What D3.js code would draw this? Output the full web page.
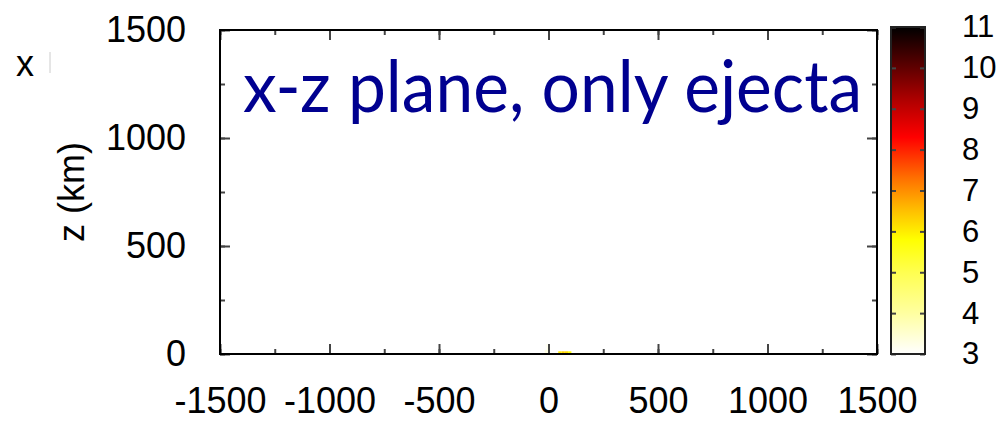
<!DOCTYPE html>
<html>
<head>
<meta charset="utf-8">
<script src="https://cdn.jsdelivr.net/npm/d3@7"></script>
<style>
  body { margin: 0; background: #fff; }
  svg { display: block; }
</style>
</head>
<body>
<div id="chart"></div>
<script>
// Chart size, same as the window
var svgWidth = 1003;
var svgHeight = 421;

// Axis ranges and ticks
var xDomain = [-1500, 1500];
var zDomain = [0, 1500];
var xMajorTicks = [-1500, -1000, -500, 0, 500, 1000, 1500];
var zMajorTicks = [0, 500, 1000, 1500];
var minorStep = 250;

// Colour bar values and palette stops
var cbDomain = [3, 11];
var cbTicks = [3, 4, 5, 6, 7, 8, 9, 10, 11];
var paletteValues = [3, 4, 5, 5.8, 6.5, 7.3, 8.3, 9.2, 10, 11];
var paletteColors = ["#ffffff", "#ffffa0", "#ffff50", "#ffff00", "#ffc000",
                     "#ff7000", "#ff0000", "#b00000", "#600000", "#000000"];

// Ejecta cells (x in km, z in km, colour value)
var ejectaX = [-10, 0, -5, 52, 67, 82, 97];
var ejectaZ = [12, 25, 38, 5, 5, 5, 5];
var ejectaV = [3.3, 3.25, 3.15, 6.0, 6.3, 6.2, 5.8];
var cellKm = 15;

var titleText = "x-z plane, only ejecta";
var zLabel = "z (km)";

var tickFont = "'Liberation Sans', Arial, sans-serif";

var svg = d3.select("#chart")
  .append("svg")
  .attr("width", svgWidth)
  .attr("height", svgHeight)
  .attr("font-family", tickFont);

// plot area scales
var x = d3.scaleLinear().domain(xDomain).range([220, 877]);
var z = d3.scaleLinear().domain(zDomain).range([354, 30]);
var color = d3.scaleLinear().domain(paletteValues).range(paletteColors).clamp(true);

// ejecta marks (drawn first, frame goes on top)
var cells = ejectaX.map((d, i) => ({ x: d, z: ejectaZ[i], v: ejectaV[i] }));
svg.append("g")
  .selectAll("rect")
  .data(cells)
  .enter()
  .append("rect")
  .attr("x", d => x(d.x - cellKm / 2))
  .attr("y", d => z(d.z + cellKm / 2))
  .attr("width", d => x(d.x + cellKm / 2) - x(d.x - cellKm / 2))
  .attr("height", d => z(d.z - cellKm / 2) - z(d.z + cellKm / 2))
  .attr("fill", d => color(d.v));

// minor ticks every 250, inward, all four sides
var xMinor = d3.range(xDomain[0], xDomain[1] + 1, minorStep);
var zMinor = d3.range(zDomain[0], zDomain[1] + 1, minorStep);

function styleAxis(g) {
  g.select(".domain").remove();
  g.selectAll(".tick line").attr("stroke", "#444").attr("stroke-width", 2);
}

svg.append("g").attr("transform", "translate(0,354)")
  .call(d3.axisBottom(x).tickValues(xMinor).tickSize(-5).tickFormat(""))
  .call(styleAxis);
svg.append("g").attr("transform", "translate(0,30)")
  .call(d3.axisTop(x).tickValues(xMinor).tickSize(-5).tickFormat(""))
  .call(styleAxis);
svg.append("g").attr("transform", "translate(220,0)")
  .call(d3.axisLeft(z).tickValues(zMinor).tickSize(-5).tickFormat(""))
  .call(styleAxis);
svg.append("g").attr("transform", "translate(877,0)")
  .call(d3.axisRight(z).tickValues(zMinor).tickSize(-5).tickFormat(""))
  .call(styleAxis);

// major ticks with labels (plain hyphen, no thousands separator)
var plain = d => String(d);

var xAxis = svg.append("g").attr("transform", "translate(0,354)")
  .call(d3.axisBottom(x).tickValues(xMajorTicks).tickFormat(plain)
    .tickSizeInner(-10).tickSizeOuter(0).tickPadding(33))
  .call(styleAxis);
xAxis.selectAll("text").attr("font-size", 36).attr("fill", "#000")
  .attr("font-family", tickFont);

var zAxis = svg.append("g").attr("transform", "translate(220,0)")
  .call(d3.axisLeft(z).tickValues(zMajorTicks).tickFormat(plain)
    .tickSizeInner(-10).tickSizeOuter(0).tickPadding(34))
  .call(styleAxis);
zAxis.selectAll("text").attr("font-size", 36).attr("fill", "#000")
  .attr("font-family", tickFont);

svg.append("g").attr("transform", "translate(0,30)")
  .call(d3.axisTop(x).tickValues(xMajorTicks).tickSize(-10).tickFormat(""))
  .call(styleAxis);
svg.append("g").attr("transform", "translate(877,0)")
  .call(d3.axisRight(z).tickValues(zMajorTicks).tickSize(-10).tickFormat(""))
  .call(styleAxis);

// frame
svg.append("rect")
  .attr("x", 220).attr("y", 30)
  .attr("width", 657).attr("height", 324)
  .attr("fill", "none").attr("stroke", "#000").attr("stroke-width", 2);

// z label
svg.append("text")
  .attr("transform", "translate(84,192) rotate(-90)")
  .attr("text-anchor", "middle")
  .attr("font-size", 36)
  .text(zLabel);

// title overlay
svg.append("text")
  .attr("x", 243).attr("y", 112)
  .attr("font-family", "Lato, 'Open Sans', sans-serif")
  .attr("font-size", 72)
  .attr("fill", "#000090")
  .attr("textLength", 619)
  .attr("lengthAdjust", "spacingAndGlyphs")
  .text(titleText);

// colour bar
var cb = d3.scaleLinear().domain(cbDomain).range([354, 27]);
var grad = svg.append("defs").append("linearGradient")
  .attr("id", "cbgrad")
  .attr("x1", 0).attr("y1", 1).attr("x2", 0).attr("y2", 0);
grad.selectAll("stop")
  .data(paletteValues)
  .enter()
  .append("stop")
  .attr("offset", d => (d - cbDomain[0]) / (cbDomain[1] - cbDomain[0]))
  .attr("stop-color", (d, i) => paletteColors[i]);

svg.append("rect")
  .attr("x", 891).attr("y", 27)
  .attr("width", 34).attr("height", 327)
  .attr("fill", "url(#cbgrad)");

svg.append("g").attr("transform", "translate(891,0)")
  .call(d3.axisLeft(cb).tickValues(cbTicks).tickSize(-5).tickFormat(""))
  .call(styleAxis);
var cbAxis = svg.append("g").attr("transform", "translate(925,0)")
  .call(d3.axisRight(cb).tickValues(cbTicks).tickFormat(plain)
    .tickSizeInner(-5).tickSizeOuter(0).tickPadding(37))
  .call(styleAxis);
cbAxis.selectAll("text").attr("font-size", 31).attr("fill", "#000")
  .attr("font-family", tickFont);

svg.append("rect")
  .attr("x", 891).attr("y", 27)
  .attr("width", 34).attr("height", 327)
  .attr("fill", "none").attr("stroke", "#222").attr("stroke-width", 2);

// cropped leftovers from the neighbouring panel
svg.append("text")
  .attr("x", 16).attr("y", 76)
  .attr("font-size", 36)
  .text("x");
svg.append("line")
  .attr("x1", 50).attr("x2", 50).attr("y1", 52).attr("y2", 73)
  .attr("stroke", "#ccc").attr("stroke-width", 1);
</script>
</body>
</html>
